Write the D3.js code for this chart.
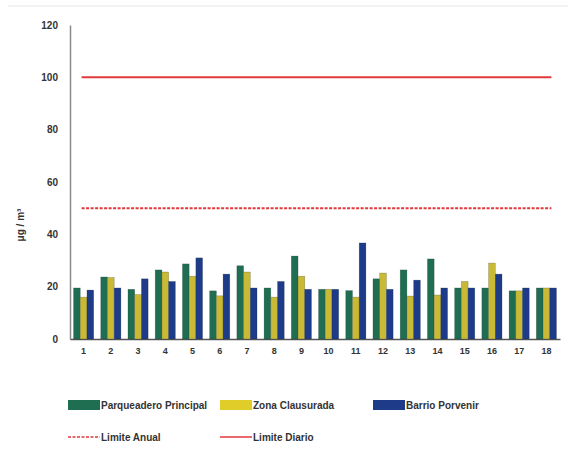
<!DOCTYPE html>
<html>
<head>
<meta charset="utf-8">
<script src="https://cdn.jsdelivr.net/npm/d3@7"></script>
<style>
  body { margin: 0; background: #fff; }
  svg { display: block; font-family: "Liberation Sans Narrow", "Liberation Sans", sans-serif; }
</style>
</head>
<body>
<svg id="chart" width="568" height="453"></svg>
<script>
// --- data ---------------------------------------------------------------
var days = ["1","2","3","4","5","6","7","8","9","10","11","12","13","14","15","16","17","18"];
var parqueadero = [19.5, 23.7, 19, 26.4, 28.7, 18.4, 28, 19.5, 31.7, 19, 18.5, 23, 26.4, 30.6, 19.5, 19.5, 18.4, 19.5];
var zona = [16, 23.5, 17, 25.6, 24, 16.5, 25.6, 16, 24, 19, 16, 25.2, 16.4, 16.8, 22, 29, 18.4, 19.5];
var barrio = [18.7, 19.5, 23, 22, 31, 24.8, 19.5, 22, 19, 19, 36.7, 19, 22.5, 19.5, 19.5, 24.8, 19.5, 19.5];
var yTicks = [0, 20, 40, 60, 80, 100, 120];
var limiteAnual = 50;
var limiteDiario = 100;

var seriesNames = ["Parqueadero Principal", "Zona Clausurada", "Barrio Porvenir"];
var seriesColors = ["#1f6e52", "#c9b935", "#1d3b88"];
var limitColor = "#e0393b";

// --- layout -------------------------------------------------------------
var svg = d3.select("#chart");
var plotLeft = 70, plotRight = 560, plotTop = 25, plotBottom = 339;

svg.append("line")
    .attr("x1", 8).attr("x2", 568).attr("y1", 6).attr("y2", 6)
    .attr("stroke", "#e6e6e6");

var x = d3.scaleBand().domain(days).range([plotLeft, plotRight]).paddingInner(0.26).paddingOuter(0.13);
var xs = d3.scaleBand().domain([0, 1, 2]).range([0, x.bandwidth()]);
var y = d3.scaleLinear().domain([0, 120]).range([plotBottom, plotTop]);

// y axis
var yAxis = svg.append("g")
    .attr("transform", "translate(" + plotLeft + ",0)")
    .call(d3.axisLeft(y).tickValues(yTicks).tickSize(0).tickPadding(12));
yAxis.select(".domain").attr("stroke", "#8a8a8a").attr("stroke-width", 1.5);
yAxis.selectAll("text").attr("font-size", 10).attr("font-weight", "bold").attr("fill", "#333");

// x axis
var xAxis = svg.append("g")
    .attr("transform", "translate(0," + plotBottom + ")")
    .call(d3.axisBottom(x).tickSize(0).tickPadding(9));
xAxis.select(".domain").attr("stroke", "#555").attr("stroke-width", 1.5);
xAxis.selectAll("text").attr("font-size", 9).attr("font-weight", "bold").attr("fill", "#333");

svg.append("text")
    .attr("transform", "translate(24,225) rotate(-90)")
    .attr("text-anchor", "middle")
    .attr("font-size", 10).attr("font-weight", "bold").attr("fill", "#333")
    .text("μg / m³");

// bars
var rows = days.map(function(d, i) { return [parqueadero[i], zona[i], barrio[i]]; });
var groups = svg.selectAll(".grp")
    .data(rows)
    .enter().append("g")
    .attr("class", "grp")
    .attr("transform", function(d, i) { return "translate(" + x(days[i]) + ",0)"; });

groups.selectAll("rect")
    .data(function(d) { return d; })
    .enter().append("rect")
    .attr("x", function(d, j) { return xs(j); })
    .attr("width", xs.bandwidth())
    .attr("y", function(d) { return y(d); })
    .attr("height", function(d) { return plotBottom - y(d); })
    .attr("fill", function(d, j) { return seriesColors[j]; })
    .attr("stroke", "#1a2a2a").attr("stroke-opacity", 0.35).attr("stroke-width", 0.6);

// limit lines
var lx1 = x(days[0]) + x.bandwidth() / 2 - 2;
var lx2 = x(days[days.length - 1]) + x.bandwidth() / 2 + 5;
svg.append("line")
    .attr("x1", lx1).attr("x2", lx2)
    .attr("y1", y(limiteDiario)).attr("y2", y(limiteDiario))
    .attr("stroke", limitColor).attr("stroke-width", 2);
svg.append("line")
    .attr("x1", lx1).attr("x2", lx2)
    .attr("y1", y(limiteAnual)).attr("y2", y(limiteAnual))
    .attr("stroke", limitColor).attr("stroke-width", 2)
    .attr("stroke-dasharray", "3,1.5");

// legend
var legend = [
  {name: seriesNames[0], x: 68, y: 405, type: "rect", color: seriesColors[0]},
  {name: seriesNames[1], x: 220, y: 405, type: "rect", color: "#e0cd2a"},
  {name: seriesNames[2], x: 373, y: 405, type: "rect", color: seriesColors[2]},
  {name: "Limite Anual", x: 68, y: 437, type: "dash", color: limitColor},
  {name: "Limite Diario", x: 220, y: 437, type: "line", color: limitColor}
];
var lg = svg.selectAll(".lg").data(legend).enter().append("g")
    .attr("transform", function(d) { return "translate(" + d.x + "," + d.y + ")"; });
lg.filter(function(d) { return d.type === "rect"; }).append("rect")
    .attr("x", 0).attr("y", -5).attr("width", 32).attr("height", 10)
    .attr("fill", function(d) { return d.color; });
lg.filter(function(d) { return d.type !== "rect"; }).append("line")
    .attr("x1", 0).attr("x2", 32).attr("y1", 0).attr("y2", 0)
    .attr("stroke", function(d) { return d.color; }).attr("stroke-width", 1.5)
    .attr("stroke-dasharray", function(d) { return d.type === "dash" ? "3,1.5" : null; });
lg.append("text")
    .attr("x", 33).attr("y", 4)
    .attr("font-size", 10).attr("font-weight", "bold").attr("fill", "#333")
    .text(function(d) { return d.name; });
</script>
</body>
</html>
